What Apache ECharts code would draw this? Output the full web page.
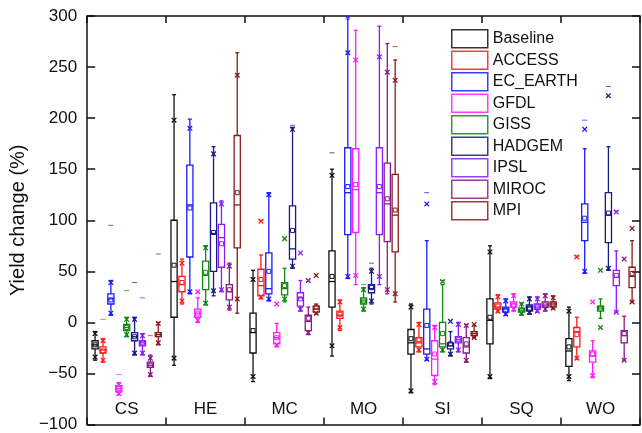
<!DOCTYPE html>
<html><head><meta charset="utf-8">
<script src="https://cdn.jsdelivr.net/npm/echarts@6/dist/echarts.min.js"></script>
<style>html,body{margin:0;padding:0;background:#fff}#c{width:642px;height:433px}</style>
</head><body><div id="c"></div>
<script>
const categories = ['CS','HE','MC','MO','SI','SQ','WO'];
const seriesNames = ['Baseline','ACCESS','EC_EARTH','GFDL','GISS','HADGEM','IPSL','MIROC','MPI'];
const colors = ['#111111','#ff1a1a','#1a1aff','#ff1aff','#118811','#1a1a80','#8a1aff','#8a1a8a','#8a1a1a'];
const yTicks = [-100, 300, 50];
// per box: [whiskerLow, q1, median, q3, whiskerHigh, mean, xLow, xHigh, dashHigh]
const baseline = [[-37,-26,-22,-18,-9,-22,-34,-11,null],[-42,5,40,100,223,56,-35,198,null],[-58,-30,-10,9,51,-8,-53,42,null],[-33,15,40,70,150,45,-23,144,166],[-69,-31,-20,-7,18,-16,-67,15,null],[-55,-21,2,23,75,5,-53,69,null],[-57,-43,-28,-16,15,-24,-53,11,null]];
const access = [[-39,-30,-27,-24,-16,-28,-37,-18,3],[18,30,37,45,62,39,21,58,null],[23,26,36,52,66,42,25,99,100],[-8,4,7,11,22,8,-5,20,null],[-29,-24,-20,-15,0,-17,-27,-2,null],[10,13,15,19,27,16,11,25,null],[-36,-24,-9,-5,5,-12,-35,64,65]];
const ecEarth = [[7,18,23,28,41,22,9,39,95],[28,64,115,154,199,112,30,190,null],[21,28,33,68,127,50,23,125,null],[43,86,127,171,299,133,45,264,297],[-37,-31,-26,13,80,-3,-36,116,127],[7,10,13,15,23,12,8,21,null],[48,80,98,116,170,102,50,189,198]];
const gfdl = [[-71,-68,-65,-62,-59,-65,-70,-61,-51],[0,5,9,13,24,9,2,30,null],[-24,-21,-15,-10,-1,-15,-22,18,null],[37,88,130,170,286,135,46,257,null],[-61,-52,-36,-18,-3,-31,-58,-5,null],[11,15,18,20,28,17,13,26,null],[-54,-39,-33,-28,-18,-31,-52,20,null]];
const giss = [[-14,-8,-5,-2,5,-5,-12,3,31],[17,32,46,60,75,49,19,73,null],[20,27,33,39,53,36,23,82,null],[11,18,21,24,34,21,13,32,37],[-29,-24,-21,0,37,-11,-27,40,41],[7,10,12,14,19,12,9,18,null],[4,11,14,16,23,14,-5,51,null]];
const hadgem = [[-32,-18,-14,-10,5,-14,-30,3,39],[26,50,87,117,172,88,31,165,null],[53,62,72,114,191,90,55,189,193],[18,29,33,37,53,34,21,50,58],[-33,-26,-23,-20,-9,-21,-31,1,null],[8,11,15,17,25,14,10,23,null],[51,78,105,127,172,107,53,222,231]];
const ipsl = [[-32,-23,-20,-18,-11,-20,-30,-13,24],[30,54,83,96,119,77,32,116,null],[11,16,24,29,41,23,13,68,null],[37,86,127,171,290,133,45,260,null],[-29,-20,-17,-14,0,-17,-27,-2,null],[10,13,15,18,25,15,11,23,null],[10,36,44,51,70,46,10,108,109]];
const miroc = [[-53,-44,-42,-39,-32,-42,-51,-35,-13],[12,22,30,37,58,32,15,55,null],[-12,-8,1,7,15,4,-10,41,null],[28,79,116,156,273,121,32,245,null],[-39,-30,-24,-15,-2,-21,-37,-3,null],[11,15,17,20,28,17,13,26,null],[-37,-20,-13,-8,6,-11,-37,62,null]];
const mpi = [[-22,-14,-12,-10,0,-12,-20,-1,67],[9,73,115,183,264,127,23,242,null],[8,10,13,16,18,15,9,46,null],[20,69,105,145,257,110,28,237,270],[-15,-13,-11,-9,-3,-11,-15,-2,null],[13,15,18,20,26,18,14,24,null],[20,34,45,54,80,48,20,92,null]];
const allData = [baseline, access, ecEarth, gfdl, giss, hadgem, ipsl, miroc, mpi];

const FONT = 'Liberation Sans, Arial, sans-serif';
const chart = echarts.init(document.getElementById('c'));

function renderItem(params, api) {
  const s = params.seriesIndex;
  const cat = api.value(0);
  const band = api.size([1, 0])[0];
  const cx = api.coord([cat, 0])[0] + (s - 4) * band * 0.1;
  const Y = v => api.coord([cat, v])[1];
  const c = colors[s];
  const st = {stroke: c, lineWidth: 1.3, fill: null};
  const bw = band * 0.078, hw = bw / 2;
  const has = v => v != null && !isNaN(v);
  const ch = [];
  const line = (x1,y1,x2,y2) => ch.push({type:'line', shape:{x1,y1,x2,y2}, style: st});
  const lo = Y(api.value(1)), q1 = Y(api.value(2)), md = Y(api.value(3)), q3 = Y(api.value(4)), hi = Y(api.value(5));
  line(cx, lo, cx, q1); line(cx, q3, cx, hi);
  line(cx-2, lo, cx+2, lo); line(cx-2, hi, cx+2, hi);
  ch.push({type:'rect', shape:{x: cx-hw, y: q3, width: bw, height: q1-q3}, style:{stroke:c, lineWidth:1.3, fill:'rgba(255,255,255,0)'}});
  line(cx-hw, md, cx+hw, md);
  const mn = Y(api.value(6));
  ch.push({type:'rect', shape:{x: cx-2, y: mn-2, width: 4, height: 4}, style:{stroke:c, lineWidth:1, fill:null}});
  [7, 8].forEach(k => {
    const v = api.value(k);
    if (has(v)) { const y = Y(v); const r = 2.3; line(cx-r, y-r, cx+r, y+r); line(cx-r, y+r, cx+r, y-r); }
  });
  const d = api.value(9);
  if (has(d)) { const y = Y(d); ch.push({type:'line', shape:{x1:cx-2.5,y1:y,x2:cx+2.5,y2:y}, style:{stroke:c, lineWidth:1, opacity:0.7}}); }
  return {type:'group', children: ch};
}

const series = seriesNames.map((name, i) => ({
  name, type: 'custom', renderItem,
  itemStyle: {color: colors[i]},
  encode: {x: 0, y: [1,2,3,4,5]},
  data: allData[i].map((r, k) => [k].concat(r.map(v => v == null ? NaN : v))),
  clip: false, silent: true
}));

const axisLine = {show: true, onZero: false, lineStyle: {color: '#111', width: 1.5}};
chart.setOption({
  animation: false,
  textStyle: {fontFamily: FONT},
  grid: {left: 85, right: 2, top: 16, bottom: 5, containLabel: false},
  legend: {
    orient: 'vertical', left: 451, top: 29, itemWidth: 36, itemHeight: 18, itemGap: 2, padding: 0,
    textStyle: {fontSize: 16, color: '#111', fontFamily: FONT, padding: [0,0,0,0]},
    data: seriesNames.map((n, i) => ({name: n, icon: 'rect', itemStyle: {color: '#fff', borderColor: colors[i], borderWidth: 1.5, opacity: 0.85}}))
  },
  xAxis: [
    {type: 'category', data: categories, position: 'bottom', axisLine,
     axisTick: {show: true, inside: true, length: 7, interval: 0, lineStyle: {color:'#111', width: 1.5}},
     axisLabel: {inside: true, margin: 7, fontSize: 17, color: '#111', fontFamily: FONT, interval: 0},
     splitLine: {show: false}},
    {type: 'category', data: categories, position: 'top', axisLine,
     axisTick: {show: true, inside: true, length: 7, interval: 0, lineStyle: {color:'#111', width: 1.5}},
     axisLabel: {show: false}, splitLine: {show: false}}
  ],
  yAxis: [
    {type: 'value', min: yTicks[0], max: yTicks[1], interval: yTicks[2], position: 'left', axisLine,
     axisTick: {show: true, inside: true, length: 8, lineStyle: {color:'#111', width: 1.5}},
     axisLabel: {fontSize: 17, color: '#111', margin: 10, fontFamily: FONT, formatter: v => String(v).replace('-', '\u2212')},
     splitLine: {show: false},
     name: 'Yield change (%)', nameLocation: 'middle', nameGap: 47, nameRotate: 90,
     nameTextStyle: {fontSize: 20, color: '#111', fontFamily: FONT}},
    {type: 'value', min: yTicks[0], max: yTicks[1], interval: yTicks[2], position: 'right', axisLine,
     axisTick: {show: true, inside: true, length: 8, lineStyle: {color:'#111', width: 1.5}},
     axisLabel: {show: false}, splitLine: {show: false}}
  ],
  series
});
</script></body></html>
